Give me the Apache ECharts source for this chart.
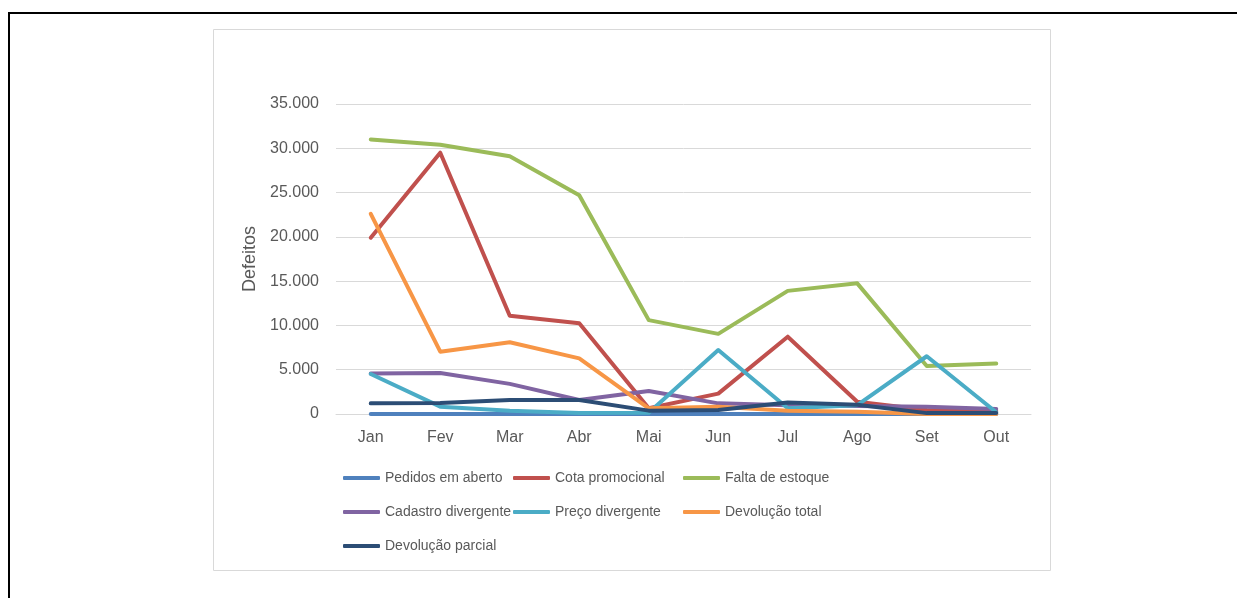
<!DOCTYPE html>
<html>
<head>
<meta charset="utf-8">
<script src="https://cdn.jsdelivr.net/npm/echarts@6/dist/echarts.min.js"></script>
<style>
html,body{margin:0;padding:0;background:#fff;}
#frame{position:absolute;left:8px;top:12px;width:1229px;height:586px;border-top:2px solid #000;border-left:2px solid #000;box-sizing:border-box;}
#chart{position:absolute;left:0;top:0;width:1237px;height:598px;}
</style>
</head>
<body>
<div id="frame"></div>
<div id="chart"></div>
<script>
// meses e valores
var meses = ['Jan', 'Fev', 'Mar', 'Abr', 'Mai', 'Jun', 'Jul', 'Ago', 'Set', 'Out'];
var pedidosAberto = [0, 0, 0, 0, 0, 0, 0, 0, 0, 0];
var cotaPromocional = [19900, 29500, 11100, 10240, 640, 2300, 8730, 1390, 450, 340];
var faltaEstoque = [31000, 30400, 29100, 24700, 10600, 9050, 13900, 14750, 5420, 5700];
var cadastroDivergente = [4560, 4620, 3400, 1580, 2600, 1200, 1000, 900, 830, 560];
var precoDivergente = [4520, 830, 360, 120, 150, 7230, 640, 1000, 6520, 200];
var devolucaoTotal = [22600, 7040, 8100, 6280, 640, 830, 380, 250, 0, 0];
var devolucaoParcial = [1200, 1250, 1580, 1580, 380, 450, 1300, 1050, 100, 100];

var nomes = ['Pedidos em aberto', 'Cota promocional', 'Falta de estoque',
    'Cadastro divergente', 'Preço divergente', 'Devolução total', 'Devolução parcial'];
var cores = ['#4F81BD', '#C0504D', '#9BBB59', '#8064A2', '#4BACC6', '#F79646', '#2C4D75'];
var valores = [pedidosAberto, cotaPromocional, faltaEstoque, cadastroDivergente,
    precoDivergente, devolucaoTotal, devolucaoParcial];

var fonte = '"Liberation Sans", Arial, sans-serif';

var chart = echarts.init(document.getElementById('chart'));

var series = [];
for (var i = 0; i < nomes.length; i++) {
    series.push({
        name: nomes[i],
        type: 'line',
        data: valores[i],
        symbol: 'none',
        color: cores[i],
        lineStyle: {width: 4, color: cores[i], cap: 'round', join: 'round'}
    });
}

var option = {
    animation: false,
    textStyle: {fontFamily: fonte},
    graphic: [{
        type: 'rect',
        shape: {x: 213.5, y: 29.5, width: 837, height: 541},
        style: {fill: 'none', stroke: '#D9D9D9', lineWidth: 1},
        silent: true
    }],
    grid: {left: 336, right: 206, top: 104, bottom: 184},
    legend: {
        data: nomes,
        left: 343,
        top: 461,
        width: 525,
        padding: 0,
        itemGap: 0,
        itemWidth: 37,
        itemHeight: 4,
        icon: 'roundRect',
        textStyle: {
            fontFamily: fonte,
            fontSize: 14,
            color: '#595959',
            width: 128,
            lineHeight: 34
        }
    },
    xAxis: {
        type: 'category',
        data: meses,
        boundaryGap: true,
        axisLine: {lineStyle: {color: '#D9D9D9', width: 1}},
        axisTick: {show: false},
        axisLabel: {color: '#595959', fontSize: 16, margin: 16, fontFamily: fonte}
    },
    yAxis: {
        type: 'value',
        min: 0,
        max: 35000,
        interval: 5000,
        name: 'Defeitos',
        nameLocation: 'middle',
        nameRotate: 90,
        nameGap: 72,
        nameTextStyle: {color: '#595959', fontSize: 18, fontFamily: fonte},
        axisLine: {show: false},
        axisTick: {show: false},
        splitLine: {lineStyle: {color: '#D9D9D9', width: 1}},
        axisLabel: {
            color: '#595959',
            fontSize: 16,
            margin: 17,
            fontFamily: fonte,
            formatter: function (v) {
                return String(v).replace(/\B(?=(\d{3})+(?!\d))/g, '.');
            }
        }
    },
    series: series
};

chart.setOption(option);
</script>
</body>
</html>
